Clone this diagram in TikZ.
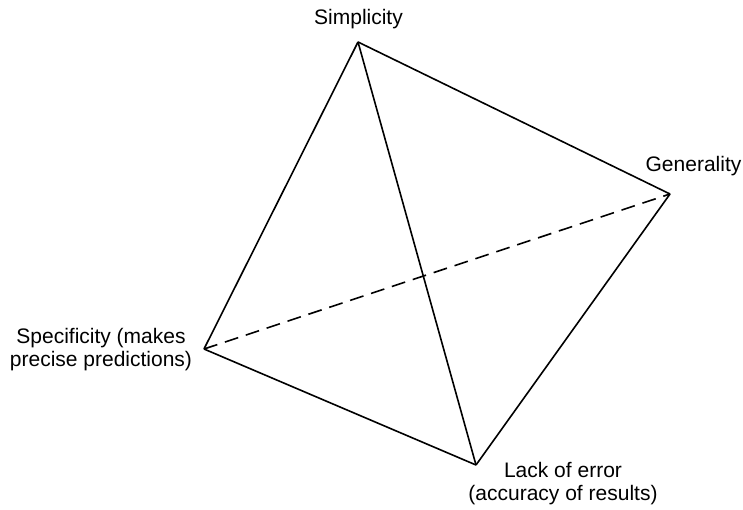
\documentclass[tikz,border=0pt]{standalone}
\usepackage{fontspec}
\setmainfont{Liberation Sans}
\begin{document}
\begin{tikzpicture}[x=1pt,y=-1pt,
  edge/.style={line width=1.6pt,line join=miter},
  dashedge/.style={line width=1.6pt,dash pattern=on 14pt off 8pt},
  lbl/.style={font=\fontsize{21}{24}\selectfont,inner sep=0pt,anchor=base}]
\useasboundingbox (0,0) rectangle (743,510);
\coordinate (S) at (358,42);
\coordinate (G) at (670,194);
\coordinate (P) at (204,349);
\coordinate (L) at (476,465);
\draw[edge] (S) -- (G);
\draw[edge] (S) -- (P);
\draw[edge] (S) -- (L);
\draw[edge] (P) -- (L);
\draw[edge] (G) -- (L);
\draw[dashedge] (P) -- (G);
\node[lbl] (tS) at (358.5,25) {Simplicity};
\node[lbl] (tG) at (693.5,172) {Generality};
\node[lbl] (tP1) at (101,343) {Specificity (makes};
\node[lbl] (tP2) at (101,366) {precise predictions)};
\node[lbl] (tL1) at (563,477) {Lack of error};
\node[lbl] (tL2) at (563,500) {(accuracy of results)};
\end{tikzpicture}
\end{document}
